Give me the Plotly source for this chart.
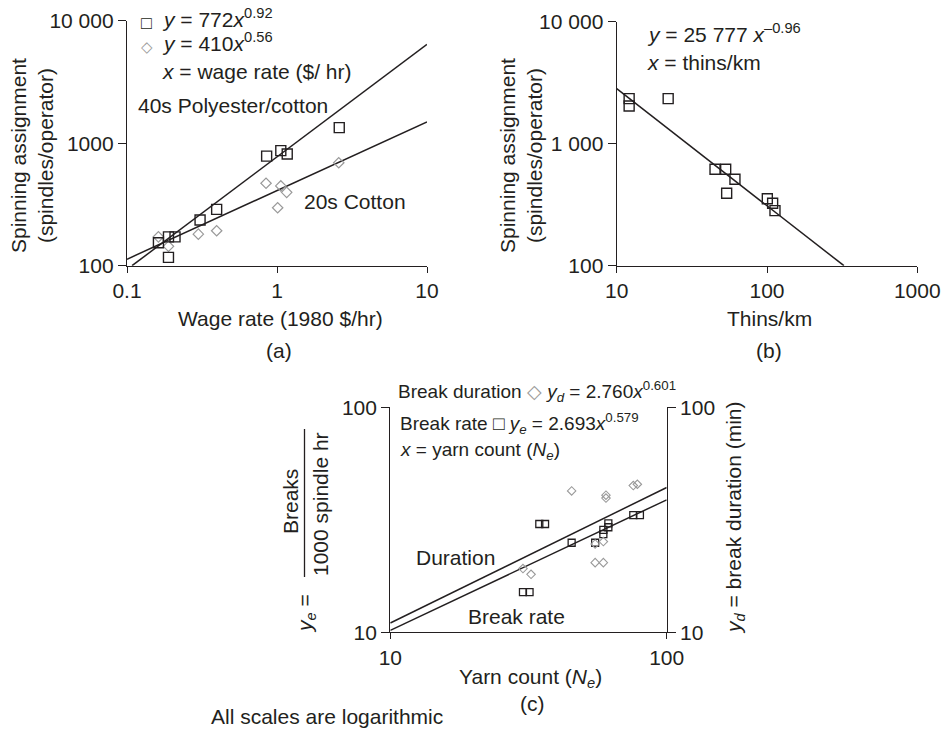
import plotly.graph_objects as go

# ---------------- Panel (a): wage rate vs spinning assignment ----------------
wage_poly = [0.162, 0.189, 0.209, 0.189, 0.307, 0.396, 0.853, 1.06, 1.17, 2.6]
assign_poly = [154, 172, 172, 117, 236, 288, 785, 869, 817, 1340]
wage_cotton = [0.162, 0.189, 0.299, 0.396, 0.845, 1.01, 1.06, 1.16, 2.58]
assign_cotton = [172, 144, 181, 193, 471, 297, 448, 397, 693]
fit_poly_x = [0.108, 10]
fit_poly_y = [100, 6420]
fit_cotton_x = [0.1, 10]
fit_cotton_y = [113, 1490]
a_xticks = [0.1, 1, 10]
a_xlabels = ["0.1", "1", "10"]
a_yticks = [100, 1000, 10000]
a_ylabels = ["100", "1000", "10 000"]

# ---------------- Panel (b): thins/km vs spinning assignment ----------------
thins = [12.1, 12.1, 22.0, 45.1, 53.1, 61.2, 53.9, 100.5, 109, 113]
assign_thins = [2340, 2040, 2340, 617, 617, 511, 392, 354, 325, 283]
fit_thins_x = [10, 325]
fit_thins_y = [2825, 100]
b_xticks = [10, 100, 1000]
b_xlabels = ["10", "100", "1000"]
b_yticks = [100, 1000, 10000]
b_ylabels = ["100", "1 000", "10 000"]

# ---------------- Panel (c): yarn count vs breaks / duration ----------------
yarn_rate = [34.6, 36.3, 30.2, 31.9, 45.3, 55.1, 59.0, 59.0, 61.5, 61.5, 75.7, 80.0]
break_rate = [30.3, 30.3, 15.1, 15.1, 25.0, 25.0, 27.3, 28.5, 29.3, 30.5, 33.2, 33.2]
yarn_dur = [45.3, 60.3, 60.3, 75.7, 78.3, 59.0, 55.1, 59.0, 30.2, 32.3, 55.1]
break_dur = [42.5, 40.7, 39.5, 44.9, 45.5, 25.3, 20.4, 20.4, 19.2, 18.1, 24.7]
fit_dur_x = [10, 100]
fit_dur_y = [11.0, 44.0]
fit_rate_x = [10, 100]
fit_rate_y = [10.2, 38.8]
c_ticks = [10, 100]
c_labels = ["10", "100"]

W, H = 944, 729
FONT = "Liberation Sans, Arial, Helvetica, sans-serif"
INK = "#231f20"
GREY = "#9a9a9a"
FS = 21


def px(x):
    return x / W


def py(y):
    return 1 - y / H


fig = go.Figure()

sq_a = dict(symbol="square-open", size=10, color=INK, line=dict(width=1.4, color=INK))
dm_a = dict(symbol="diamond-open", size=8, color=GREY, line=dict(width=1.2, color=GREY))
sq_c = dict(symbol="square-open", size=7, color=INK, line=dict(width=1.3, color=INK))
dm_c = dict(symbol="diamond-open", size=6.5, color=GREY, line=dict(width=1.1, color=GREY))
ln = dict(color=INK, width=1.5)

# (a)
fig.add_trace(go.Scatter(x=fit_poly_x, y=fit_poly_y, mode="lines", line=ln, xaxis="x", yaxis="y"))
fig.add_trace(go.Scatter(x=fit_cotton_x, y=fit_cotton_y, mode="lines", line=ln, xaxis="x", yaxis="y"))
fig.add_trace(go.Scatter(x=wage_cotton, y=assign_cotton, mode="markers", marker=dm_a, xaxis="x", yaxis="y"))
fig.add_trace(go.Scatter(x=wage_poly, y=assign_poly, mode="markers", marker=sq_a, xaxis="x", yaxis="y"))
# (b)
fig.add_trace(go.Scatter(x=fit_thins_x, y=fit_thins_y, mode="lines", line=ln, xaxis="x2", yaxis="y2"))
fig.add_trace(go.Scatter(x=thins, y=assign_thins, mode="markers", marker=sq_a, xaxis="x2", yaxis="y2"))
# (c)
fig.add_trace(go.Scatter(x=fit_rate_x, y=fit_rate_y, mode="lines", line=ln, xaxis="x3", yaxis="y3"))
fig.add_trace(go.Scatter(x=fit_dur_x, y=fit_dur_y, mode="lines", line=ln, xaxis="x3", yaxis="y4"))
fig.add_trace(go.Scatter(x=yarn_dur, y=break_dur, mode="markers", marker=dm_c, xaxis="x3", yaxis="y4"))
fig.add_trace(go.Scatter(x=yarn_rate, y=break_rate, mode="markers", marker=sq_c, xaxis="x3", yaxis="y3"))

tickfont = dict(family=FONT, size=FS, color=INK)


def ax(domain, rng, tv, tt, anchor, ticklen=7, **kw):
    d = dict(type="log", range=rng, domain=domain, anchor=anchor,
             tickmode="array", tickvals=tv, ticktext=tt,
             showline=True, linecolor=INK, linewidth=1.3,
             ticks="outside", ticklen=ticklen, tickwidth=1.3, tickcolor=INK,
             showgrid=False, zeroline=False, tickfont=tickfont, fixedrange=True,
             automargin=False)
    d.update(kw)
    return d


fig.update_layout(
    width=W, height=H, autosize=False,
    margin=dict(l=0, r=0, t=0, b=0, pad=0, autoexpand=False),
    paper_bgcolor="white", plot_bgcolor="rgba(0,0,0,0)",
    showlegend=False,
    font=dict(family=FONT, size=FS, color=INK),
    xaxis=ax([px(127), px(427)], [-1, 1], a_xticks, a_xlabels, "y", ticklen=6),
    yaxis=ax([py(265.7), py(20.7)], [2, 4], a_yticks, a_ylabels, "x", ticklen=8),
    xaxis2=ax([px(616.7), px(917.3)], [1, 3], b_xticks, b_xlabels, "y2", ticklen=6),
    yaxis2=ax([py(265.7), py(21.7)], [2, 4], b_yticks, b_ylabels, "x2", ticklen=8),
    xaxis3=ax([px(390.3), px(666.7)], [1, 2], c_ticks, c_labels, "y3", ticklen=6),
    yaxis3=ax([py(632.3), py(407.3)], [1, 2], c_ticks, c_labels, "x3", ticklen=8),
    yaxis4=ax([py(632.3), py(407.3)], [1, 2], c_ticks, c_labels, "x3", ticklen=8,
              overlaying="y3", side="right"),
)

annotations = []


def ann(text, x, y, xanchor="left", yanchor="middle", angle=0, size=FS, color=INK):
    annotations.append(dict(text=text, x=px(x), y=py(y), xref="paper", yref="paper",
                            xanchor=xanchor, yanchor=yanchor, textangle=angle,
                            showarrow=False, font=dict(family=FONT, size=size, color=color)))


# Panel (a) texts
ann("□", 146.7, 23, xanchor="center", size=18)
ann("◇", 146.7, 47, xanchor="center", size=15, color=GREY)
ann("<i>y</i> = 772<i>x</i><sup>0.92</sup>", 160, 18)
ann("<i>y</i> = 410<i>x</i><sup>0.56</sup>", 160, 42)
ann("<i>x</i> = wage rate ($/ hr)", 160, 71)
ann("40s Polyester/cotton", 136, 106)
ann("20s Cotton", 302, 202)
ann("Spinning assignment<br>(spindles/operator)", 32, 156, xanchor="center", angle=-90)
ann("Wage rate (1980 $/hr)", 280, 318, xanchor="center")
ann("(a)", 279, 350, xanchor="center")

# Panel (b) texts
ann("<i>y</i> = 25 777 <i>x</i><sup>–0.96</sup>", 645, 33)
ann("<i>x</i> = thins/km", 645, 63)
ann("Spinning assignment<br>(spindles/operator)", 521, 156, xanchor="center", angle=-90)
ann("Thins/km", 769, 318, xanchor="center")
ann("(b)", 769, 350, xanchor="center")

# Panel (c) texts
ann("Break duration <span style='color:#9a9a9a'>◇</span> <i>y<sub>d</sub></i> = 2.760<i>x</i><sup>0.601</sup>",
    396, 391, size=19)
ann("Break rate □ <i>y<sub>e</sub></i> = 2.693<i>x</i><sup>0.579</sup>", 398, 423, size=19)
ann("<i>x</i> = yarn count (<i>N<sub>e</sub></i>)", 398, 451, size=19)
ann("Duration", 414, 557)
ann("Break rate", 466, 616)
ann("Breaks", 290, 502, xanchor="center", angle=-90)
ann("1000 spindle hr", 320, 504, xanchor="center", angle=-90)
ann("<i>y<sub>e</sub></i> =", 306, 614, xanchor="center", angle=-90)
ann("<i>y<sub>d</sub></i> = break duration (min)", 735, 518, xanchor="center", angle=-90)
ann("Yarn count (<i>N<sub>e</sub></i>)", 530, 678, xanchor="center")
ann("(c)", 532, 703, xanchor="center")
ann("All scales are logarithmic", 209, 716)

fig.update_layout(annotations=annotations)

fig.add_shape(type="line", xref="paper", yref="paper",
              x0=px(304.5), x1=px(304.5), y0=py(429), y1=py(577),
              line=dict(color=INK, width=1.3))

# Remove the browser's default 8 px body margin so the 944x729 figure fills the window.
fig.write_html(
    "out.html",
    config={"displayModeBar": False},
    post_script="document.body.style.margin='0';document.body.style.overflow='hidden';",
)
